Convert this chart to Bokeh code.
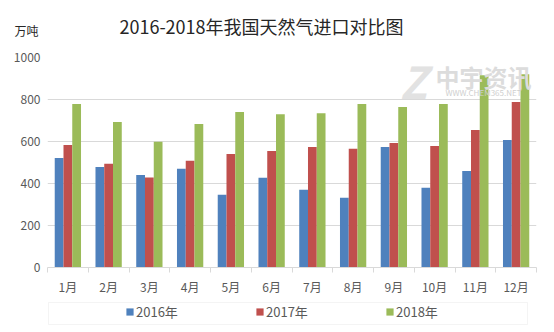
import numpy as np
from bokeh.plotting import figure
from bokeh.layouts import column
from bokeh.models import (Range1d, FixedTicker, Label, Legend, LegendItem, BoxAnnotation)
from bokeh.embed import file_html
from bokeh.resources import INLINE

months = ["1月", "2月", "3月", "4月", "5月", "6月", "7月", "8月", "9月", "10月", "11月", "12月"]
series_names = ["2016年", "2017年", "2018年"]
v2016 = [522, 479, 441, 470, 347, 427, 370, 332, 574, 380, 460, 607]
v2017 = [583, 494, 429, 508, 541, 555, 574, 565, 593, 579, 655, 788]
v2018 = [778, 693, 599, 683, 740, 730, 735, 778, 764, 778, 915, 920]
y_ticks = [0, 200, 400, 600, 800, 1000]
title_text = "2016-2018年我国天然气进口对比图"
unit_text = "万吨"

colors = ["#4F81BD", "#C0504D", "#9BBB59"]
FONT = "Noto Sans CJK SC"
W = 554
H_HEAD, H_MAIN, H_LEG = 45, 252, 35
FL, FR = 47, 536   # frame left / right in canvas px (column aligns frames)


def blank(h, yaxis=False):
    f = figure(width=W, height=h, output_backend="svg", toolbar_location=None,
               x_axis_type=None, y_axis_type="linear" if yaxis else None,
               x_range=Range1d(FL, FR), y_range=Range1d(0, h),
               min_border=0, min_border_left=FL, min_border_right=W - FR,
               min_border_top=0, min_border_bottom=0)
    f.outline_line_color = None
    f.grid.visible = False
    return f


# ---------- header ----------
head = blank(H_HEAD, yaxis=True)
unit_y = H_HEAD - 30
head.yaxis.ticker = FixedTicker(ticks=[unit_y])
head.yaxis.major_label_overrides = {unit_y: unit_text}
head.yaxis.axis_line_color = None
head.yaxis.major_tick_line_color = None
head.yaxis.major_tick_out = 0
head.yaxis.major_tick_in = 0
head.yaxis.minor_tick_line_color = None
head.yaxis.minor_tick_out = 0
head.yaxis.major_label_text_font = FONT
head.yaxis.major_label_text_font_size = "12px"
head.yaxis.major_label_text_color = "#262626"
head.yaxis.major_label_standoff = 9
head.add_layout(Label(x=261, y=H_HEAD - 25, text=title_text, text_font=FONT,
                      text_font_size="18px", text_color="#262626",
                      text_align="center", text_baseline="middle"))

# ---------- main chart ----------
p = figure(width=W, height=H_MAIN, output_backend="svg", toolbar_location=None,
           x_range=Range1d(0.5, 12.5), y_range=Range1d(0, 1000),
           min_border_left=FL, min_border_right=W - FR, min_border_top=12, min_border_bottom=29)
p.outline_line_color = None

idx = np.arange(1, 13)
bw = 0.215
renderers = []
for k, (vals, col) in enumerate(zip([v2016, v2017, v2018], colors)):
    r = p.vbar(x=idx + (k - 1) * bw, top=vals, width=bw, fill_color=col, line_color=None)
    renderers.append(r)

p.xgrid.grid_line_color = None
p.ygrid.grid_line_color = "#D9D9D9"
p.ygrid.ticker = FixedTicker(ticks=y_ticks)

p.yaxis.ticker = FixedTicker(ticks=y_ticks)
p.yaxis.axis_line_color = None
p.yaxis.major_tick_line_color = None
p.yaxis.major_tick_out = 0
p.yaxis.major_tick_in = 0
p.yaxis.minor_tick_line_color = None
p.yaxis.minor_tick_out = 0
p.yaxis.major_label_text_font = FONT
p.yaxis.major_label_text_font_size = "12px"
p.yaxis.major_label_text_color = "#595959"
p.yaxis.major_label_standoff = 7

p.xaxis.ticker = FixedTicker(ticks=list(idx), minor_ticks=list(np.arange(0.5, 13, 1.0)))
p.xaxis.major_label_overrides = {int(i): m for i, m in zip(idx, months)}
p.xaxis.axis_line_color = "#D9D9D9"
p.xaxis.major_tick_line_color = None
p.xaxis.major_tick_out = 0
p.xaxis.major_tick_in = 0
p.xaxis.minor_tick_line_color = "#D9D9D9"
p.xaxis.minor_tick_out = 5
p.xaxis.minor_tick_in = 0
p.xaxis.major_label_text_font = FONT
p.xaxis.major_label_text_font_size = "12px"
p.xaxis.major_label_text_color = "#595959"
p.xaxis.major_label_standoff = 5

# watermark (frame top at canvas y=57, frame height 211)
fh = 211
def wm(x, y_canvas, text, size, style="bold", color="#DCDCDC"):
    p.add_layout(Label(x=x - FL, y=fh - (y_canvas - 57), x_units="screen", y_units="screen",
                       text=text, text_font=FONT, text_font_size=size, text_font_style=style,
                       text_color=color, text_align="center", text_baseline="middle"))

wm(413, 80, "Z", "44px", "bold italic", "#E2E2E2")
wm(483, 77, "中宇资讯", "24px", "bold", "#DCDCDC")
wm(483, 93, "WWW.CHEM365.NET", "8px", "normal", "#CFCFCF")

# ---------- legend ----------
leg = blank(H_LEG)
dummies = [leg.vbar(x=[-1000], top=[0], width=1, fill_color=c, line_color=None) for c in colors]
leg.add_layout(BoxAnnotation(left=48, right=527, bottom=H_LEG - 27, top=H_LEG - 5,
                             fill_color=None, line_color="#D9D9D9", line_width=1))
legend = Legend(items=[LegendItem(label=n, renderers=[r]) for n, r in zip(series_names, dummies)],
                orientation="horizontal", location=(125 - FL, H_LEG - 24),
                border_line_color=None, background_fill_alpha=0,
                padding=0, margin=0, spacing=69,
                glyph_width=9, glyph_height=9, label_standoff=2, label_width=50, label_height=16,
                label_text_font=FONT, label_text_font_size="13px", label_text_color="#595959")
leg.add_layout(legend, "center")

layout = column(head, p, leg, spacing=0)
open("out.html", "w").write(file_html(layout, INLINE))
